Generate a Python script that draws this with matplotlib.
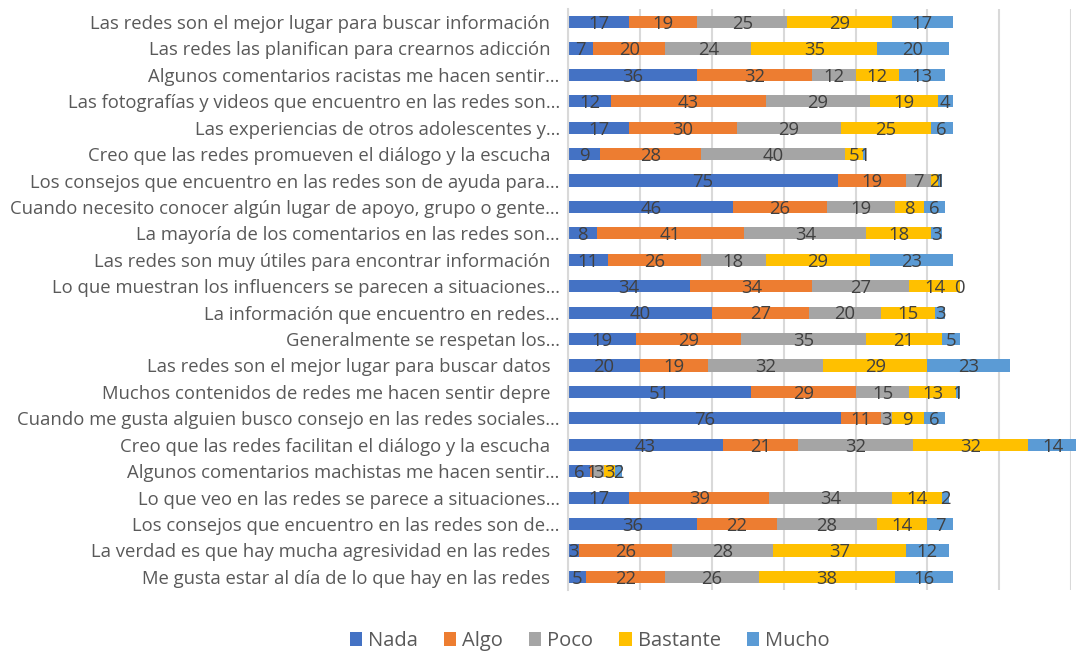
import matplotlib.pyplot as plt
import numpy as np

# preguntas (de arriba hacia abajo)
preguntas = [
    "Las redes son el mejor lugar para buscar información  ",
    "Las redes las planifican para crearnos adicción  ",
    "Algunos comentarios racistas me hacen sentir…",
    "Las fotografías y videos que encuentro en las redes son…",
    "Las experiencias de otros adolescentes y…",
    "Creo que las redes promueven el diálogo y la escucha  ",
    "Los consejos que encuentro en las redes son de ayuda para…",
    "Cuando necesito conocer algún lugar de apoyo, grupo o gente…",
    "La mayoría de los comentarios en las redes son…",
    "Las redes son muy útiles para encontrar información  ",
    "Lo que muestran los influencers se parecen a situaciones…",
    "La información que encuentro en redes…",
    "Generalmente se respetan los…",
    "Las redes son el mejor lugar para buscar datos  ",
    "Muchos contenidos de redes me hacen sentir depre  ",
    "Cuando me gusta alguien busco consejo en las redes sociales…",
    "Creo que las redes facilitan el diálogo y la escucha  ",
    "Algunos comentarios machistas me hacen sentir…",
    "Lo que veo en las redes se parece a situaciones…",
    "Los consejos que encuentro en las redes son de…",
    "La verdad es que hay mucha agresividad en las redes  ",
    "Me gusta estar al día de lo que hay en las redes  ",
]

nada =     [17, 7, 36, 12, 17, 9, 75, 46, 8, 11, 34, 40, 19, 20, 51, 76, 43, 6, 17, 36, 3, 5]
algo =     [19, 20, 32, 43, 30, 28, 19, 26, 41, 26, 34, 27, 29, 19, 29, 11, 21, 1, 39, 22, 26, 22]
poco =     [25, 24, 12, 29, 29, 40, 7, 19, 34, 18, 27, 20, 35, 32, 15, 3, 32, 3, 34, 28, 28, 26]
bastante = [29, 35, 12, 19, 25, 5, 2, 8, 18, 29, 14, 15, 21, 29, 13, 9, 32, 3, 14, 14, 37, 38]
mucho =    [17, 20, 13, 4, 6, 1, 1, 6, 3, 23, 0, 3, 5, 23, 1, 6, 14, 2, 2, 7, 12, 16]

series = ["Nada", "Algo", "Poco", "Bastante", "Mucho"]
colores = ["#4472C4", "#ED7D31", "#A5A5A5", "#FFC000", "#5B9BD5"]

plt.rcParams['font.family'] = ['Open Sans', 'DejaVu Sans']

fig = plt.figure(figsize=(10.76, 6.52), dpi=100)
ax = fig.add_axes([0.528, 0.095, 0.4675, 0.8915])

y = np.arange(len(preguntas))
izq = np.zeros(len(preguntas))
for nombre, vals, col in zip(series, [nada, algo, poco, bastante, mucho], colores):
    vals = np.array(vals, dtype=float)
    barras = ax.barh(y, vals, left=izq, height=0.46, color=col, label=nombre, zorder=2)
    for b in barras:
        b.set_clip_on(False)
    for yi, l, v in zip(y, izq, vals):
        ax.text(l + v / 2, yi + 0.07, f"{int(v)}", ha='center', va='center',
                fontsize=13.3, color='#404040', zorder=3)
    izq += vals

ax.set_xlim(0, 140)
ax.set_ylim(len(preguntas) - 0.5, -0.5)
ax.set_xticks(np.arange(0, 141, 20))
ax.set_xticklabels([])
ax.tick_params(axis='x', length=0)
ax.grid(axis='x', color='#D9D9D9', linewidth=1.5, zorder=0)
ax.set_yticks(y)
ax.set_yticklabels(preguntas, fontsize=13.3, color='#595959')
ax.tick_params(axis='y', length=0, pad=6)
for s in ['top', 'right', 'bottom']:
    ax.spines[s].set_visible(False)
ax.spines['left'].set_color('#D9D9D9')
ax.spines['left'].set_linewidth(1.5)

fig.legend(loc='center', bbox_to_anchor=(0.548, 0.017), ncol=5, frameon=False,
           fontsize=14.5, handlelength=0.6, handleheight=0.7, handletextpad=0.3,
           columnspacing=1.3, labelcolor='#595959')

fig.savefig("out.png", dpi=100)
